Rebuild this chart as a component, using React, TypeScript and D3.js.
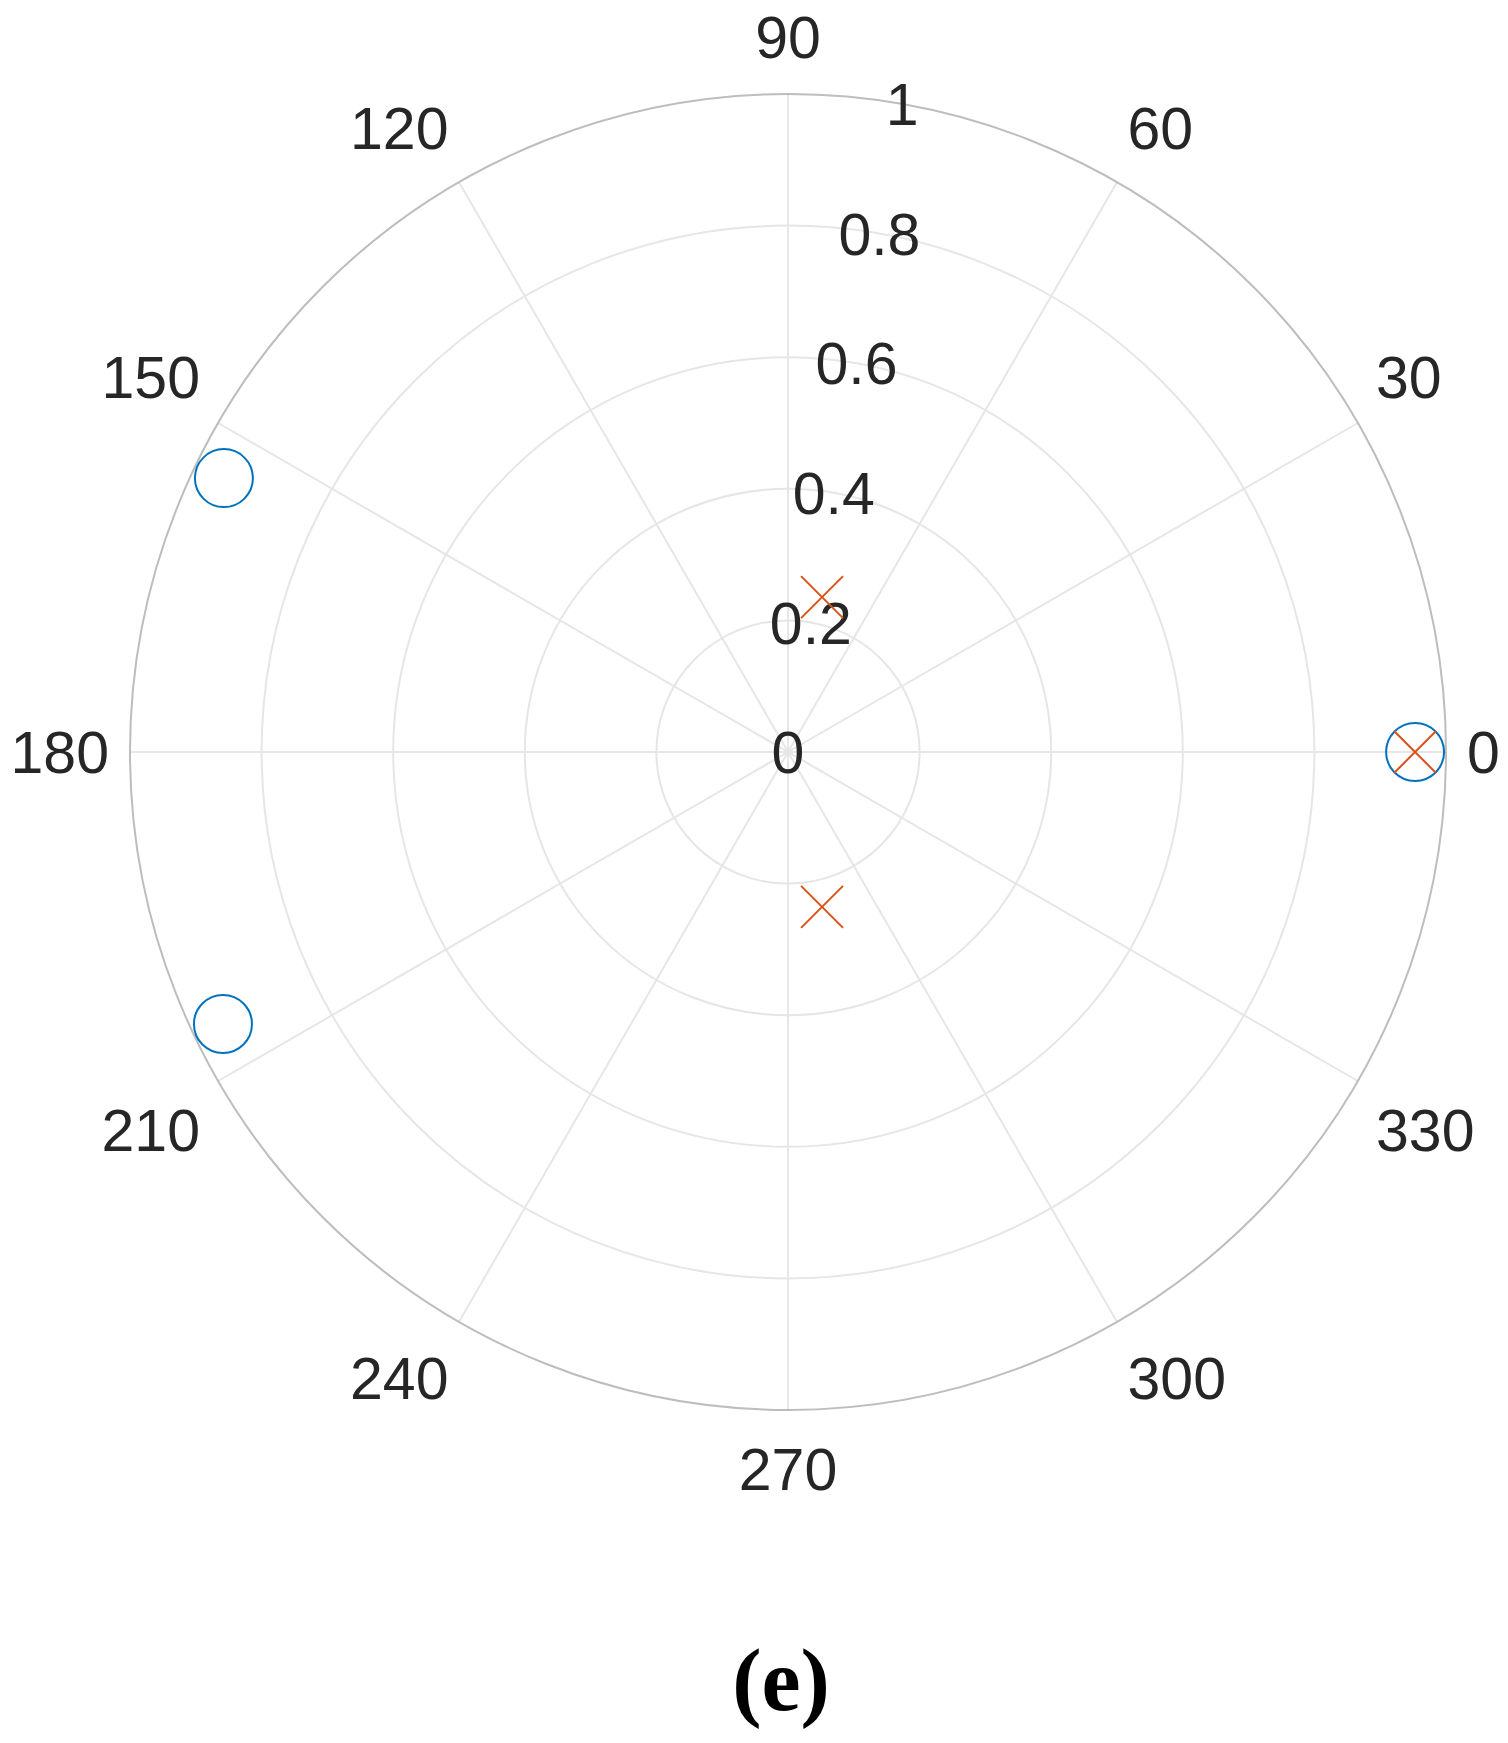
import React, { useEffect, useRef } from 'react';
import * as d3 from 'd3';

// angles in degrees, radius normalised to 1
const circleTheta = [0, 154.1, 205.7];
const circleR = [0.953, 0.953, 0.953];
const crossTheta = [0, 77.6, 282.4];
const crossR = [0.953, 0.241, 0.241];

const thetaTicks = [0, 30, 60, 90, 120, 150, 180, 210, 240, 270, 300, 330];
const rTicks = [0, 0.2, 0.4, 0.6, 0.8, 1];
const rTickLabels = ['0', '0.2', '0.4', '0.6', '0.8', '1'];
const caption = '(e)';

const App = () => {
    const svgRef = useRef<SVGSVGElement>(null);

    useEffect(() => {
        const svg = d3.select(svgRef.current);
        svg.selectAll('*').remove();

        const cx = 788;
        const cy = 752;
        const R = 658;
        const fontSize = 59;
        const labelR = 679;

        const r = d3.scaleLinear().domain([0, 1]).range([0, R]);
        const rad = (deg: number) => (deg * Math.PI) / 180;
        const px = (t: number, v: number) => cx + r(v) * Math.cos(rad(t));
        const py = (t: number, v: number) => cy - r(v) * Math.sin(rad(t));

        const g = svg.append('g');

        // radial spokes
        g.selectAll('.spoke')
            .data(thetaTicks)
            .enter().append('line')
            .attr('x1', cx)
            .attr('y1', cy)
            .attr('x2', d => px(d, 1))
            .attr('y2', d => py(d, 1))
            .attr('stroke', '#e6e6e6')
            .attr('stroke-width', 2);

        // inner rings
        g.selectAll('.ring')
            .data(rTicks.filter(d => d > 0 && d < 1))
            .enter().append('circle')
            .attr('cx', cx)
            .attr('cy', cy)
            .attr('r', d => r(d))
            .attr('fill', 'none')
            .attr('stroke', '#e6e6e6')
            .attr('stroke-width', 2);

        // outer ring
        g.append('circle')
            .attr('cx', cx)
            .attr('cy', cy)
            .attr('r', r(1))
            .attr('fill', 'none')
            .attr('stroke', '#bdbdbd')
            .attr('stroke-width', 2);

        // angle labels, aligned like matlab polaraxes
        g.selectAll('.tlabel')
            .data(thetaTicks)
            .enter().append('text')
            .attr('x', d => cx + labelR * Math.cos(rad(d)))
            .attr('y', d => {
                const s = Math.sin(rad(d));
                if (s > 0.01) return cy - labelR * s - 15;
                if (s < -0.01) return cy - labelR * s + 17 + 0.716 * fontSize;
                return cy;
            })
            .attr('dy', d => (Math.abs(Math.sin(rad(d))) <= 0.01 ? '0.36em' : 0))
            .attr('text-anchor', d => {
                const c = Math.cos(rad(d));
                return c > 0.01 ? 'start' : c < -0.01 ? 'end' : 'middle';
            })
            .attr('font-family', '"Liberation Sans", Arial, sans-serif')
            .attr('font-size', fontSize)
            .attr('fill', '#262626')
            .text(d => String(d));

        // radius labels along 80 deg
        g.selectAll('.rlabel')
            .data(rTicks)
            .enter().append('text')
            .attr('x', d => px(80, d))
            .attr('y', d => py(80, d))
            .attr('dy', '0.36em')
            .attr('text-anchor', 'middle')
            .attr('font-family', '"Liberation Sans", Arial, sans-serif')
            .attr('font-size', fontSize)
            .attr('fill', '#262626')
            .text((d, i) => rTickLabels[i]);

        // circle markers
        g.selectAll('.circ')
            .data(circleTheta.map((t, i) => ({ t, v: circleR[i] })))
            .enter().append('circle')
            .attr('cx', d => px(d.t, d.v))
            .attr('cy', d => py(d.t, d.v))
            .attr('r', 29)
            .attr('fill', 'none')
            .attr('stroke', '#0072BD')
            .attr('stroke-width', 2);

        // cross markers
        const s = 21;
        g.selectAll('.cross')
            .data(crossTheta.map((t, i) => ({ t, v: crossR[i] })))
            .enter().append('path')
            .attr('d', d => {
                const x = px(d.t, d.v);
                const y = py(d.t, d.v);
                return `M${x - s},${y - s}L${x + s},${y + s}M${x - s},${y + s}L${x + s},${y - s}`;
            })
            .attr('fill', 'none')
            .attr('stroke', '#D95319')
            .attr('stroke-width', 2);

        // caption
        svg.append('text')
            .attr('x', 781)
            .attr('y', 1710)
            .attr('text-anchor', 'middle')
            .attr('font-family', '"Liberation Serif", "Times New Roman", serif')
            .attr('font-weight', 'bold')
            .attr('font-size', 88)
            .attr('fill', '#000')
            .text(caption);
    }, []);

    return (
        <svg
            ref={svgRef}
            width={1508}
            height={1743}
            style={{ position: 'absolute', left: 0, top: 0, background: '#fff' }}
        ></svg>
    );
};

export default App;
